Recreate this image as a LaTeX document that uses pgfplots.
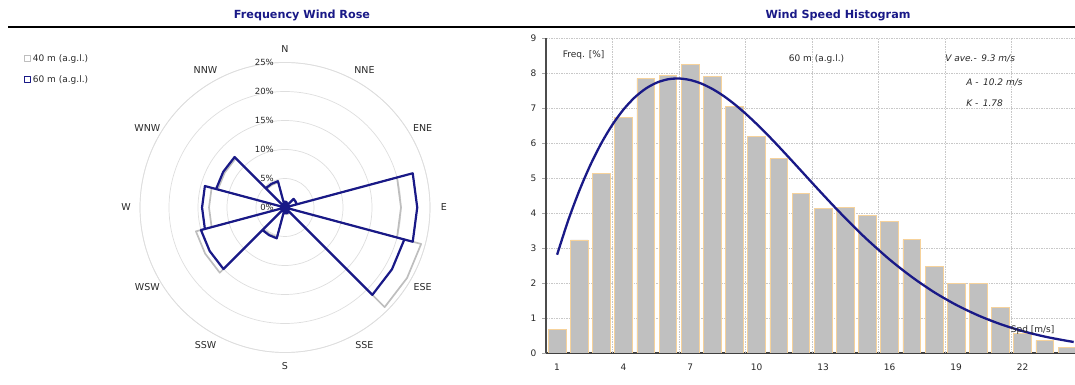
\documentclass[border=0pt]{standalone}
\usepackage{fontspec}
\setmainfont{DejaVu Sans}
\usepackage{pgfplots}
\pgfplotsset{compat=1.18}
\usepgfplotslibrary{polar}
\definecolor{navy}{RGB}{25,25,135}
\definecolor{rosegray}{RGB}{190,190,190}
\definecolor{bargray}{RGB}{192,192,192}
\definecolor{baredge}{RGB}{246,210,155}
\definecolor{gridgray}{RGB}{222,222,222}
\definecolor{histgrid}{RGB}{200,200,200}
\definecolor{txt}{RGB}{40,40,40}
\newcommand{\fs}[1]{\fontsize{#1}{#1}\selectfont}
\tikzset{
  rlabel/.style={font=\fs{8.5}, text=txt, anchor=east, xshift=-11pt, inner sep=0pt},
  dlabel/.style={font=\fs{9.5}, text=txt, inner sep=0pt},
}
\begin{document}
\begin{tikzpicture}
\useasboundingbox (0pt,0pt) rectangle (1075pt,385pt);
\node[font=\bfseries\fs{11.2}, text=navy] at (302pt,370pt) {Frequency Wind Rose};
\node[font=\bfseries\fs{11.2}, text=navy] at (838pt,370pt) {Wind Speed Histogram};
\draw[line width=2.2pt] (8pt,358pt) -- (1075pt,358pt);

\begin{polaraxis}[
  at={(285pt,177.5pt)}, anchor=center,
  scale only axis, width=290pt, height=290pt,
  ymin=0, ymax=25,
  xtick={0,30,...,330}, xticklabels={},
  ytick={5,10,...,25}, yticklabels={},
  xmajorgrids=false, ymajorgrids=true,
  major grid style={draw=gridgray, line width=0.7pt},
  separate axis lines,
  x axis line style={draw=gridgray, line width=0.7pt},
  y axis line style={draw=none},
  tick style={draw=none},
  clip=false,
  legend style={at={(-0.4,1.035)}, anchor=north west, draw=none, fill=none,
    font=\fs{9}, text=txt, row sep=8.5pt, inner sep=0pt,
    /tikz/every even column/.append style={column sep=2pt}},
  legend cell align=left,
  legend image code/.code={\draw[#1, line width=1.1pt, fill=white] (0pt,-2.8pt) rectangle (5.6pt,2.8pt);},
]
% 40 m (a.g.l.)
\addplot[draw=rosegray, line width=1.7pt, line join=round] coordinates {
 (75,0) (75,1.0) (90,1.0) (105,1.0) (105,0)
 (45,0) (45,0.8) (60,0.8) (75,0.8) (75,0)
 (15,0) (15,2.0) (30,2.0) (45,2.0) (45,0)
 (-15,0) (-15,20.0) (0,20.0) (15,20.0) (15,0)
 (-45,0) (-45,24.3) (-30,24.3) (-15,24.3) (-15,0)
 (-75,0) (-75,1.2) (-60,1.2) (-45,1.2) (-45,0)
 (-105,0) (-105,1.0) (-90,1.0) (-75,1.0) (-75,0)
 (-135,0) (-135,5.3) (-120,5.3) (-105,5.3) (-105,0)
 (-165,0) (-165,15.9) (-150,15.9) (-135,15.9) (-135,0)
 (165,0) (165,13.1) (180,13.1) (195,13.1) (195,0)
 (135,0) (135,12.0) (150,12.0) (165,12.0) (165,0)
 (105,0) (105,4.5) (120,4.5) (135,4.5) (135,0)
};
\addlegendentry{40 m (a.g.l.)}
% 60 m (a.g.l.)
\addplot[draw=navy, line width=2.2pt, line join=round] coordinates {
 (75,0) (75,1.0) (90,1.0) (105,1.0) (105,0)
 (45,0) (45,0.8) (60,0.8) (75,0.8) (75,0)
 (15,0) (15,2.1) (30,2.1) (45,2.1) (45,0)
 (-15,0) (-15,22.8) (0,22.8) (15,22.8) (15,0)
 (-45,0) (-45,21.3) (-30,21.3) (-15,21.3) (-15,0)
 (-75,0) (-75,1.0) (-60,1.0) (-45,1.0) (-45,0)
 (-105,0) (-105,1.0) (-90,1.0) (-75,1.0) (-75,0)
 (-135,0) (-135,5.5) (-120,5.5) (-105,5.5) (-105,0)
 (-165,0) (-165,15.0) (-150,15.0) (-135,15.0) (-135,0)
 (165,0) (165,14.3) (180,14.3) (195,14.3) (195,0)
 (135,0) (135,12.3) (150,12.3) (165,12.3) (165,0)
 (105,0) (105,4.7) (120,4.7) (135,4.7) (135,0)
};
\addlegendentry{60 m (a.g.l.)}
% ring labels
\node[rlabel] at (axis cs:90,0) {0\%};
\node[rlabel] at (axis cs:90,5) {5\%};
\node[rlabel] at (axis cs:90,10) {10\%};
\node[rlabel] at (axis cs:90,15) {15\%};
\node[rlabel] at (axis cs:90,20) {20\%};
\node[rlabel] at (axis cs:90,25) {25\%};
% direction labels
\node[dlabel] at (axis cs:90,27.4) {N};
\node[dlabel] at (axis cs:60,27.4) {NNE};
\node[dlabel] at (axis cs:30,27.4) {ENE};
\node[dlabel] at (axis cs:0,27.4) {E};
\node[dlabel] at (axis cs:-30,27.4) {ESE};
\node[dlabel] at (axis cs:-60,27.4) {SSE};
\node[dlabel] at (axis cs:-90,27.4) {S};
\node[dlabel] at (axis cs:-120,27.4) {SSW};
\node[dlabel] at (axis cs:-150,27.4) {WSW};
\node[dlabel] at (axis cs:180,27.4) {W};
\node[dlabel] at (axis cs:150,27.4) {WNW};
\node[dlabel] at (axis cs:120,27.4) {NNW};
\end{polaraxis}

\begin{axis}[
  at={(546pt,32pt)}, anchor=south west,
  scale only axis, width=532.1pt, height=315pt,
  xmin=0.5, xmax=24.5, ymin=0, ymax=9,
  axis x line*=bottom, axis y line*=left,
  x axis line style={-, draw=black!75, line width=1.8pt},
  y axis line style={-, draw=black!70, line width=1.1pt},
  xtick={1,4,...,22},
  ytick={0,1,...,9},
  xmajorgrids=false,
  major x tick style={draw=none},
  extra x ticks={3.5,6.5,...,21.5},
  extra x tick labels={},
  extra x tick style={xmajorgrids=true, major tick length=4pt, tick style={draw=gray!70, line width=0.6pt}},
  major y tick style={draw=gray!70, line width=0.6pt},
  major tick length=4pt,
  tick align=outside,
  ymajorgrids=true,
  major grid style={draw=histgrid, line width=0.6pt, dash pattern=on 1.5pt off 1pt},
  ticklabel style={font=\fs{9}, text=txt},
  /pgf/number format/assume math mode=true,
  xticklabel style={yshift=-3pt},
  yticklabel style={xshift=-2pt},
  clip=true,
]
\addplot[ybar, bar width=0.8, fill=bargray, draw=baredge, line width=0.7pt] coordinates {
 (1,0.68) (2,3.23) (3,5.12) (4,6.74) (5,7.85) (6,7.94) (7,8.25) (8,7.90)
 (9,7.04) (10,6.20) (11,5.55) (12,4.57) (13,4.14) (14,4.16) (15,3.93) (16,3.75)
 (17,3.24) (18,2.47) (19,1.98) (20,1.98) (21,1.30) (22,0.57) (23,0.36) (24,0.16)
};
\addplot[navy, line width=2.3pt, smooth] coordinates {
 (1,2.807) (1.5,3.786) (2,4.635) (2.5,5.370) (3,5.999) (3.5,6.528) (4,6.961)
 (4.5,7.302) (5,7.555) (5.5,7.726) (6,7.820) (6.5,7.843) (7,7.800) (7.5,7.699)
 (8,7.546) (8.5,7.348) (9,7.110) (9.5,6.840) (10,6.544) (10.5,6.229) (11,5.897)
 (11.5,5.556) (12,5.211) (12.5,4.864) (13,4.521) (13.5,4.183) (14,3.855)
 (14.5,3.537) (15,3.233) (16,2.669) (17,2.172) (18,1.740) (19,1.375) (20,1.072)
 (21,0.824) (22,0.625) (23,0.468) (24,0.347) (24.3,0.316)
};
\node[font=\fs{9}, text=txt, anchor=west] at (axis cs:1.1,8.52) {Freq. [\%]};
\node[font=\fs{9}, text=txt] at (axis cs:12.7,8.40) {60 m (a.g.l.)};
\node[font=\itshape\fs{9}, text=txt, anchor=west] at (axis cs:18.35,8.40) {V ave.-\enspace 9.3 m/s};
\node[font=\itshape\fs{9}, text=txt, anchor=west] at (axis cs:19.3,7.74) {A -\enspace 10.2 m/s};
\node[font=\itshape\fs{9}, text=txt, anchor=west] at (axis cs:19.3,7.13) {K -\enspace 1.78};
\node[font=\fs{9}, text=txt] at (axis cs:22.45,0.66) {Spd [m/s]};
\end{axis}
\end{tikzpicture}
\end{document}
